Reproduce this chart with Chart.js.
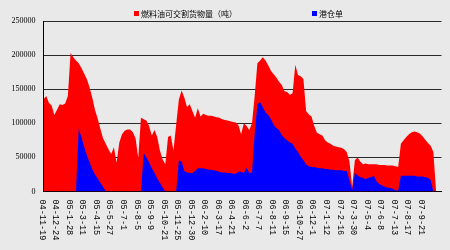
<!DOCTYPE html>
<html>
<head>
<meta charset="utf-8">
<script src="https://cdn.jsdelivr.net/npm/chart.js@4.4.0/dist/chart.umd.min.js"></script>
<style>
  html, body { margin: 0; padding: 0; background: #e9e9e9; }
  #wrap { width: 450px; height: 250px; position: relative; }
</style>
</head>
<body>
<div id="wrap"><canvas id="c" width="450" height="250"></canvas></div>
<script>
// Tick labels shown every 5th weekly observation
const tickLabels = ["04-11-19","04-12-24","05-1-28","05-3-11","05-4-15","05-5-27","05-7-1","05-8-5","05-9-9","05-10-21","05-11-25","05-12-30","06-2-10","06-3-17","06-4-21","06-6-2","06-7-7","06-8-11","06-9-15","06-10-27","06-12-1","07-1-12","07-2-16","07-3-30","07-5-4","07-6-8","07-7-13","07-8-17","07-9-21"];
const tickEvery = 5;

const seriesNames = ["燃料油可交割货物量（吨）", "港仓单"];
const seriesColors = ["#ff0000", "#0000ff"];

// 燃料油可交割货物量 (tonnes), values (in thousands)
const deliverableK = [
 135,140,130,126,112,120,128,127,129,140,
 203,197,192,188,181,173,165,153,138,120,
 107,92,78,70,62,55,65,42,72,84,
 89,91,91,87,78,49,108,106,104,96,
 82,90,80,60,47,40,80,82,60,98,
 135,148,138,124,128,118,108,122,110,114,
 112,111,111,110,109,108,106,105,104,103,
 102,101,97,84,100,96,90,100,140,188,
 192,197,192,185,177,172,167,161,156,147,
 146,142,144,186,171,169,165,118,113,110,
 96,86,84,82,75,72,70,67,66,65,
 64,62,58,44,7,46,50,44,40,41,
 40,40,40,40,39,39,39,38,38,38,
 37,36,70,75,80,84,87,88,87,85,
 81,76,71,67,58,0,0,0
];

// 港仓单 (tonnes), in thousands
const warrantK = [
 0,0,0,0,0,0,0,0,0,0,
 0,0,0,92,80,66,53,43,33,25,
 19,13,7,0,0,0,0,0,0,0,
 0,0,0,0,0,0,0,56,50,43,
 34,27,19,13,6,0,0,0,0,0,
 46,44,30,28,27,27,30,34,34,34,
 33,32,32,31,30,29,28,28,27,27,
 26,26,29,29,27,35,27,28,85,128,
 131,124,116,112,106,98,93,90,83,78,
 75,72,70,63,58,51,46,40,37,36,
 36,35,34,34,33,33,32,32,31,31,
 31,30,30,17,2,27,24,21,20,18,
 20,21,23,15,11,9,7,6,5,4,
 2,1.5,23,23,23,23,23,23,22,22,
 22,21,20,17,0,0,0,0
];

const yTicks = [0, 50000, 100000, 150000, 200000, 250000];

const deliverable = deliverableK.map(v => v * 1000);
const warrant = warrantK.map(v => v * 1000);
const categories = deliverable.map((_, i) => (i % tickEvery === 0 && tickLabels[i / tickEvery]) ? tickLabels[i / tickEvery] : "");

const customDraw = {
  id: 'customDraw',
  beforeDraw(chart) {
    const ctx = chart.ctx;
    ctx.save();
    ctx.fillStyle = '#e9e9e9';
    ctx.fillRect(0, 0, chart.width, chart.height);
    ctx.restore();
  },
  afterDraw(chart) {
    const ctx = chart.ctx;
    const xs = chart.scales.x;
    const area = chart.chartArea;
    ctx.save();
    // rotated x tick labels (reading top to bottom)
    ctx.fillStyle = '#000';
    ctx.font = '8.5px "Liberation Mono", monospace';
    ctx.textAlign = 'left';
    ctx.textBaseline = 'middle';
    categories.forEach((lab, i) => {
      if (!lab) return;
      const x = xs.getPixelForValue(i) - 1.5;
      ctx.save();
      ctx.translate(x, area.bottom + 8);
      ctx.rotate(Math.PI / 2);
      ctx.fillText(lab, 0, 0);
      ctx.restore();
    });
    // legend
    const items = [
      { x: 134, name: seriesNames[0], color: seriesColors[0] },
      { x: 312, name: seriesNames[1], color: seriesColors[1] }
    ];
    ctx.font = '8px "Noto Sans CJK SC", sans-serif';
    ctx.textBaseline = 'middle';
    items.forEach(it => {
      ctx.fillStyle = it.color;
      ctx.fillRect(it.x, 11, 5, 5);
      ctx.fillStyle = '#000';
      ctx.fillText(it.name, it.x + 7, 14);
    });
    ctx.restore();
  }
};

new Chart(document.getElementById('c'), {
  type: 'line',
  data: {
    labels: categories,
    datasets: [
      {
        label: seriesNames[0],
        data: deliverable,
        backgroundColor: seriesColors[0],
        borderColor: seriesColors[0],
        borderWidth: 0,
        fill: 'origin',
        pointRadius: 0,
        tension: 0,
        order: 2
      },
      {
        label: seriesNames[1],
        data: warrant,
        backgroundColor: seriesColors[1],
        borderColor: seriesColors[1],
        borderWidth: 0,
        fill: 'origin',
        pointRadius: 0,
        tension: 0,
        order: 1
      }
    ]
  },
  options: {
    responsive: false,
    animation: false,
    layout: { padding: { top: 21, right: 8.5, left: 0, bottom: 0 } },
    plugins: { legend: { display: false }, tooltip: { enabled: false } },
    scales: {
      x: {
        type: 'category',
        grid: { display: false },
        border: { display: true, color: '#000', width: 1 },
        ticks: { display: false },
        afterFit(s) { s.height = 58.5; }
      },
      y: {
        min: 0,
        max: 250000,
        afterBuildTicks(s) { s.ticks = yTicks.map(v => ({ value: v })); },
        grid: { color: '#2a2a2a', lineWidth: 1, drawTicks: false },
        border: { display: true, color: '#000', width: 1 },
        ticks: {
          color: '#000',
          padding: 8,
          font: { family: '"Liberation Serif", serif', size: 8 },
          callback: v => String(v)
        },
        afterFit(s) { s.width = 43.5; }
      }
    }
  },
  plugins: [customDraw]
});
</script>
</body>
</html>
